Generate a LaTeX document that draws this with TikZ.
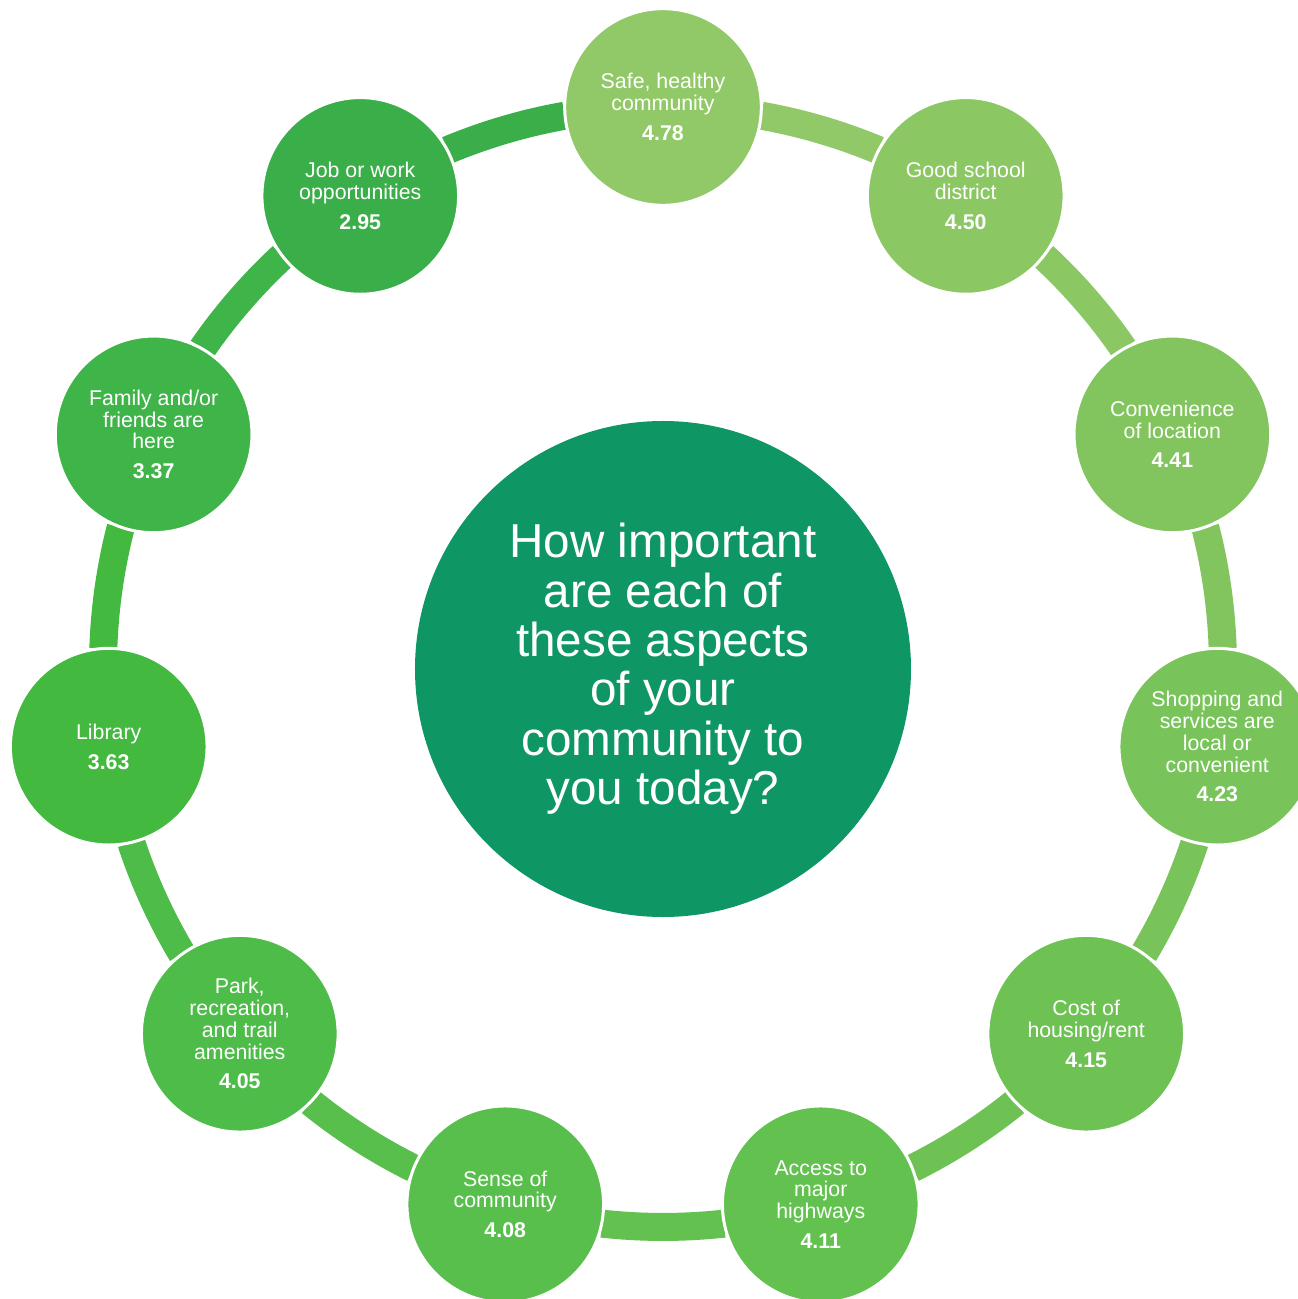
\documentclass[tikz,border=0pt]{standalone}
\usepackage{fontspec}
\setmainfont{Liberation Sans}
\usetikzlibrary{calc}
\definecolor{c0}{RGB}{146,201,104}
\definecolor{c1}{RGB}{139,200,100}
\definecolor{c2}{RGB}{130,197,94}
\definecolor{c3}{RGB}{121,196,90}
\definecolor{c4}{RGB}{110,194,84}
\definecolor{c5}{RGB}{99,193,80}
\definecolor{c6}{RGB}{89,191,76}
\definecolor{c7}{RGB}{77,188,72}
\definecolor{c8}{RGB}{67,185,64}
\definecolor{c9}{RGB}{63,180,72}
\definecolor{c10}{RGB}{58,174,72}
\definecolor{hub}{RGB}{14,150,100}
\tikzset{
  bubble/.style={circle, draw=white, line width=2.25pt, minimum size=147.5pt, inner sep=0pt,
    text=white, align=center, font=\fontsize{16}{16.3}\selectfont},
  hubnode/.style={circle, fill=hub, minimum size=372pt, inner sep=0pt,
    text=white, align=center, font=\fontsize{35.7}{37}\selectfont},
  ring/.style={line width=21pt}
}
\begin{document}
\begin{tikzpicture}[x=0.75pt,y=0.75pt]
\clip (-663,-632) rectangle (635,667);
\fill[white] (-663,-632) rectangle (635,667);
\node[hubnode] (C) at (0,-2) {How important\\are each of\\these aspects\\of your\\community to\\you today?};
\node[bubble, fill=c0, draw=none] (n0) at (90:560) {};
\node[bubble, fill=c1, draw=none] (n1) at (57.2727:560) {};
\node[bubble, fill=c2, draw=none] (n2) at (24.5455:560) {};
\node[bubble, fill=c3, draw=none] (n3) at (-8.1818:560) {};
\node[bubble, fill=c4, draw=none] (n4) at (-40.9091:560) {};
\node[bubble, fill=c5, draw=none] (n5) at (-73.6364:560) {};
\node[bubble, fill=c6, draw=none] (n6) at (-106.3636:560) {};
\node[bubble, fill=c7, draw=none] (n7) at (-139.0909:560) {};
\node[bubble, fill=c8, draw=none] (n8) at (-171.8182:560) {};
\node[bubble, fill=c9, draw=none] (n9) at (-204.5455:560) {};
\node[bubble, fill=c10, draw=none] (n10) at (-237.2727:560) {};
% ring segments between consecutive bubbles
\foreach \i in {0,...,10}{
  \pgfmathsetmacro{\s}{90-\i*32.7273-10.1}
  \pgfmathsetmacro{\e}{90-(\i+1)*32.7273+10.1}
  \draw[ring, c\i] ($(0,0)!1!-10.1:(n\i)$) arc[start angle=\s, end angle=\e, radius=560];
}
% bubbles on top with text
\node[bubble, fill=c0] at (n0) {Safe, healthy\\community\\[6pt]\textbf{4.78}};
\node[bubble, fill=c1] at (n1) {Good school\\district\\[6pt]\textbf{4.50}};
\node[bubble, fill=c2] at (n2) {Convenience\\of location\\[6pt]\textbf{4.41}};
\node[bubble, fill=c3] at (n3) {Shopping and\\services are\\local or\\convenient\\[6pt]\textbf{4.23}};
\node[bubble, fill=c4] at (n4) {Cost of\\housing/rent\\[6pt]\textbf{4.15}};
\node[bubble, fill=c5] at (n5) {Access to\\major\\highways\\[6pt]\textbf{4.11}};
\node[bubble, fill=c6] at (n6) {Sense of\\community\\[6pt]\textbf{4.08}};
\node[bubble, fill=c7] at (n7) {Park,\\recreation,\\and trail\\amenities\\[6pt]\textbf{4.05}};
\node[bubble, fill=c8] at (n8) {Library\\[6pt]\textbf{3.63}};
\node[bubble, fill=c9] at (n9) {Family and/or\\friends are\\here\\[6pt]\textbf{3.37}};
\node[bubble, fill=c10] at (n10) {Job or work\\opportunities\\[6pt]\textbf{2.95}};
\end{tikzpicture}
\end{document}
